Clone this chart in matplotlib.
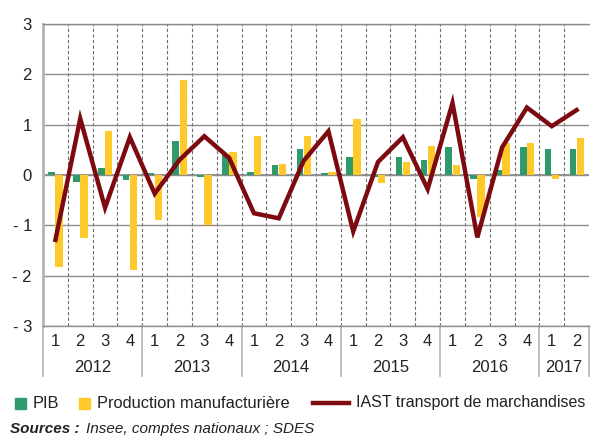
import numpy as np
import matplotlib.pyplot as plt
from matplotlib.lines import Line2D
from matplotlib.patches import Rectangle
import matplotlib.transforms as mtransforms

plt.rcParams['font.family'] = ['Liberation Sans', 'DejaVu Sans']

# Data: quarterly growth (%), 2012Q1 to 2017Q2
years = ['2012', '2013', '2014', '2015', '2016', '2017']
quarters = ['1', '2', '3', '4'] * 5 + ['1', '2']
pib = [0.06, -0.13, 0.13, -0.10, 0.03, 0.67, -0.03, 0.40,
       0.06, 0.20, 0.51, 0.03, 0.36, -0.03, 0.36, 0.29,
       0.55, -0.07, 0.10, 0.55, 0.51, 0.51]
prod = [-1.83, -1.25, 0.87, -1.88, -0.90, 1.89, -1.00, 0.45,
        0.77, 0.22, 0.77, 0.06, 1.12, -0.16, 0.26, 0.57,
        0.20, -0.84, 0.64, 0.64, -0.07, 0.74]
iast = [-1.29, 1.12, -0.65, 0.75, -0.37, 0.30, 0.77, 0.34,
        -0.76, -0.86, 0.28, 0.87, -1.12, 0.26, 0.75, -0.28,
        1.43, -1.24, 0.55, 1.34, 0.97, 1.29]
labels = ['PIB', 'Production manufacturière', 'IAST transport de marchandises']

green = '#2f9a6c'
yellow = '#ffc929'
red = '#7d0a10'
grid_col = '#8c8c8c'

W, H = 595, 437
fig = plt.figure(figsize=(W / 100, H / 100), dpi=100)
ax = fig.add_axes([43 / W, 1 - 326 / H, 546 / W, 302 / H])

x = np.arange(len(pib))
ax.bar(x - 0.15, pib, 0.27, color=green, zorder=2)
ax.bar(x + 0.15, prod, 0.30, color=yellow, zorder=2)
ax.plot(x, iast, color=red, lw=3.2, zorder=3, solid_joinstyle='miter')

ax.set_xlim(-0.5, len(pib) - 0.5)
ax.set_ylim(-3, 3)
ax.set_yticks(range(-3, 4))
ax.set_yticklabels([str(v) if v >= 0 else '- %d' % -v for v in range(-3, 4)],
                   fontsize=12, color='#222222')
ax.yaxis.grid(True, color=grid_col, lw=1.0, zorder=0)
ax.axhline(0, color=grid_col, lw=1.2, zorder=1)

# dashed vertical lines at each quarter boundary
for b in np.arange(0.5, len(pib) - 0.5, 1):
    ax.axvline(b, color='#6e6e6e', lw=0.8, ls=(0, (3, 2)), zorder=1)

ax.set_xticks(x)
ax.set_xticklabels(quarters, fontsize=12, color='#222222')
ax.tick_params(axis='both', length=0)
ax.tick_params(axis='x', pad=6)
ax.tick_params(axis='y', pad=8)

for side in ['top', 'bottom']:
    ax.spines[side].set_color(grid_col)
    ax.spines[side].set_linewidth(1.0)
ax.spines['left'].set_color('#b4b4b4')
ax.spines['left'].set_linewidth(2.0)
ax.spines['right'].set_visible(False)

# year labels and separators
trans = mtransforms.blended_transform_factory(ax.transData, ax.transAxes)
starts = [0, 4, 8, 12, 16, 20]
ends = [4, 8, 12, 16, 20, 22]
for yr, s, e in zip(years, starts, ends):
    ax.text((s + e - 1) / 2, -0.139, yr, transform=trans, ha='center',
            va='center', fontsize=12, color='#222222')
for b in [-0.5, 3.5, 7.5, 11.5, 15.5, 19.5, 21.5]:
    ax.plot([b, b], [0, -0.165], transform=trans, color='#b4b4b4', lw=1.2,
            clip_on=False)

# legend drawn in pixel positions
ly = 1 - 403 / H
sq = 11
fig.add_artist(Rectangle((15 / W, ly - sq / 2 / H), sq / W, sq / H,
                         color=green, transform=fig.transFigure))
fig.text(33 / W, ly, labels[0], fontsize=11.8, va='center', color='#222222')
fig.add_artist(Rectangle((79 / W, ly - sq / 2 / H), sq / W, sq / H,
                         color=yellow, transform=fig.transFigure))
fig.text(97 / W, ly, labels[1], fontsize=11.8, va='center', color='#222222')
fig.add_artist(Line2D([313 / W, 349 / W], [ly, ly], color=red, lw=3.2,
                      transform=fig.transFigure))
fig.text(356 / W, ly, labels[2], fontsize=11.5, va='center', color='#222222')

fig.text(10 / W, 1 - 429 / H, 'Sources :', fontsize=11, fontweight='bold',
         style='italic', va='center', color='#222222')
fig.text(86 / W, 1 - 429 / H, 'Insee, comptes nationaux ; SDES', fontsize=11,
         style='italic', va='center', color='#222222')

fig.savefig('out.png', dpi=100)
